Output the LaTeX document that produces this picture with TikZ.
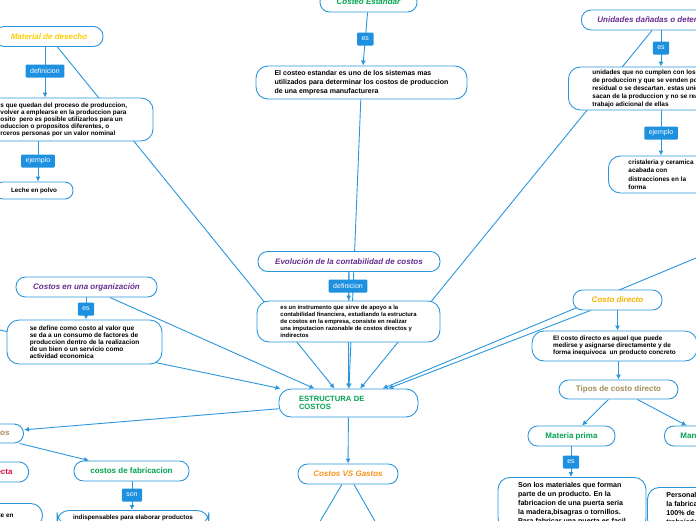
\documentclass[tikz,border=0pt]{standalone}
\usepackage{fontspec}
\setmainfont{Liberation Sans}
\usetikzlibrary{arrows.meta}
\pgfdeclarelayer{background}
\pgfsetlayers{background,main}
\definecolor{mapblue}{RGB}{43,150,220}
\definecolor{tagblue}{RGB}{30,144,224}
\definecolor{tgreen}{RGB}{0,163,80}
\definecolor{tyellow}{RGB}{250,208,0}
\definecolor{tpurple}{RGB}{102,45,145}
\definecolor{torange}{RGB}{247,148,30}
\definecolor{tgold}{RGB}{247,178,0}
\definecolor{ttan}{RGB}{163,141,92}
\definecolor{tred}{RGB}{212,20,70}

\begin{document}
\begin{tikzpicture}[x=1pt,y=-1pt,
  topic/.style={draw=mapblue,line width=0.9pt,fill=white,rounded corners=9.5pt,minimum height=20pt,inner xsep=6pt,inner ysep=0pt,font=\fontsize{8}{9.6}\selectfont\bfseries\itshape},
  topicup/.style={topic,font=\fontsize{8}{9.6}\selectfont\bfseries},
  note/.style={draw=mapblue,line width=0.9pt,fill=white,rounded corners=12pt,align=left,inner ysep=2pt,font=\fontsize{6.4}{7.2}\selectfont\bfseries},
  tag/.style={fill=tagblue,text=white,rounded corners=1pt,inner xsep=4.5pt,inner ysep=0pt,minimum height=13pt,font=\fontsize{7}{8}\selectfont},
  link/.style={draw=mapblue,line width=0.9pt},
  arr/.style={link,-{Latex[length=5pt,width=5pt]}}]
\useasboundingbox (0,0) rectangle (696,520);
%
% top
\node[topic,text=tgreen,minimum width=97pt] (costeo) at (368.5,2) {Costeo Estandar};
\node[tag] (esA) at (365.3,39) {es};
\node[note,minimum width=211pt,inner xsep=15pt,minimum height=33pt,font=\fontsize{7}{9}\selectfont\bfseries] (costeoDef) at (361.5,82.5) {El costeo estandar es uno de los sistemas mas\\utilizados para determinar los costos de produccion\\de una empresa manufacturera};
%
\node[topic,text=tyellow,minimum width=108pt] (desecho) at (49,36.5) {Material de desecho};
\node[tag] (defA) at (45,71) {definicion};
\node[note,anchor=west,inner xsep=26pt,minimum height=43pt,font=\fontsize{6.4}{7}\selectfont\bfseries] (desechoDef) at (-26,119.5) {s que quedan del proceso de produccion,\\volver a emplearse en la produccion para\\osito\ \ pero es posible utilizarlos para un\\oduccion o propositos diferentes, o\\rceros personas por un valor nominal};
\node[tag] (ejA) at (38,161) {ejemplo};
\node[note,rounded corners=8pt,minimum width=78pt,minimum height=17pt,align=center,font=\fontsize{6.3}{7}\selectfont\bfseries] (leche) at (34,190.5) {Leche en polvo};
%
\node[topic,text=tpurple,anchor=west,inner xsep=16pt] (unidades) at (581,20) {Unidades dañadas o deterioradas};
\node[tag] (esB) at (661,48) {es};
\node[note,anchor=west,inner xsep=24pt,minimum height=43pt,font=\fontsize{6.4}{8}\selectfont\bfseries] (unidadesDef) at (568,88.5) {unidades que no cumplen con los estandares\\de produccion y que se venden por su valor\\residual o se descartan. estas unidades se\\sacan de la produccion y no se realiza\\trabajo adicional de ellas};
\node[tag] (ejB) at (661,133) {ejemplo};
\node[note,anchor=west,inner xsep=20pt,minimum height=37pt,font=\fontsize{6.4}{8.5}\selectfont\bfseries] (cristaleria) at (608,174.5) {cristaleria y ceramica\\acabada con\\distracciones en la\\forma};
%
% middle
\node[topic,text=tpurple,minimum width=182pt] (evol) at (349,261.5) {Evolución de la contabilidad de costos};
\node[tag] (defB) at (348,286) {definicion};
\node[note,minimum width=183pt,minimum height=41pt,font=\fontsize{5.9}{7}\selectfont\bfseries] (evolDef) at (348.5,321.5) {es un instrumento que sirve de apoyo a la\\contabilidad financiera, estudiando la estructura\\de costos en la empresa, consiste en realizar\\una imputacion razonable de costos directos y\\indirectos};
%
\node[topic,text=tpurple,minimum width=141pt] (org) at (86.5,287) {Costos en una organización};
\node[tag] (esC) at (86,309) {es};
\node[note,minimum width=155pt,minimum height=44pt,font=\fontsize{6.5}{7}\selectfont\bfseries] (orgDef) at (84.5,342) {se define como costo al valor que\\se da a un consumo de factores de\\produccion dentro de la realizacion\\de un bien o un servicio como\\actividad economica};
%
\node[note,text=tgreen,text width=99pt,inner xsep=20pt,minimum height=28pt,font=\fontsize{7.6}{8}\selectfont\bfseries] (estructura) at (348.5,403) {ESTRUCTURA DE\\COSTOS};
\node[topic,text=torange,minimum width=100pt] (vs) at (348,474) {Costos VS Gastos};
\coordinate (vsL) at (315,530);
\coordinate (vsR) at (380,530);
\coordinate (leftA) at (-10,328);
\coordinate (rightA) at (720,248);
%
% right
\node[topic,text=tgold,minimum width=89pt] (cdir) at (617.5,300) {Costo directo};
\node[note,minimum width=165pt,minimum height=30pt,font=\fontsize{6.4}{7}\selectfont\bfseries] (cdirDef) at (614.5,346) {El costo directo es aquel que puede\\medirse y asignarse directamente y de\\forma inequivoca\ \ un producto concreto};
\node[topicup,text=ttan,minimum width=119pt,minimum height=19pt] (tipos) at (618.5,389.5) {Tipos de costo directo};
\node[topicup,text=tgreen,minimum width=87pt] (mp) at (571.5,436) {Materia prima};
\node[tag] (esD) at (571,462) {es};
\node[note,anchor=north,minimum width=148pt,inner ysep=5pt,font=\fontsize{7.1}{9}\selectfont\bfseries] (mpDef) at (572,477) {Son los materiales que forman\\parte de un producto. En la\\fabricacion de una puerta seria\\la madera,bisagras o tornillos.\\Para fabricar una puerta es facil};
\node[topicup,text=tgreen,anchor=west,align=left,inner xsep=16pt] (man) at (664,436) {Mano de obra};
\node[note,anchor=north west,inner xsep=19pt,inner ysep=5pt,font=\fontsize{7.1}{9}\selectfont\bfseries] (personal) at (647,487) {Personal que interviene en\\la fabricacion del producto,\\100\% de su costo se asigna\\trabajadores directos};
%
% left bottom
\node[topicup,text=ttan,anchor=east,inner xsep=14pt,minimum height=19pt] (tiposC) at (24,433.5) {Tipos de costos};
\node[topicup,text=tred,anchor=east,inner xsep=16pt] (directa) at (29,472) {Mano de obra directa};
\node[note,anchor=north east,align=right,inner xsep=29pt,inner ysep=9pt] (directaDef) at (43,503) {lo que se invierte en};
\node[topicup,text=tgreen,minimum width=115pt] (fab) at (131.5,471) {costos de fabricacion};
\node[tag] (son) at (132,495) {son};
\node[note,anchor=north,minimum width=152pt,inner ysep=4pt,font=\fontsize{6.3}{8}\selectfont\bfseries] (fabDef) at (133,510) {indispensables para elaborar productos};
%
\begin{pgfonlayer}{background}
\draw[arr] (costeo) -- (costeoDef);
\draw[arr] (desecho.south -| defA) -- (desechoDef.north -| defA);
\draw[arr] (desechoDef.south -| ejA) -- (leche.north -| ejA);
\draw[arr] (unidades.south -| esB) -- (unidadesDef.north -| esB);
\draw[arr] (unidadesDef.south -| ejB) -- (cristaleria.north -| ejB);
\draw[arr] (evol) -- (evolDef);
\draw[arr] (org.south -| esC) -- (orgDef.north -| esC);
\draw[arr] (cdir.south) -- (cdirDef.north -| cdir.south);
\draw[arr] (cdirDef.south -| tipos.north) -- (tipos.north);
\draw[arr] (tipos) -- (mp);
\draw[arr] (tipos) -- (man);
\draw[arr] (mp.south -| esD) -- (mpDef.north -| esD);
\draw[arr] (estructura) -- (vs);
\draw[link] (vs) -- (vsL);
\draw[link] (vs) -- (vsR);
\draw[arr] (estructura) -- (tiposC);
\draw[arr] (tiposC) -- (fab);
\draw[arr] (fab.south -| son) -- (fabDef.north -| son);
% into the centre
\draw[arr] (costeoDef) -- (estructura.88);
\draw[arr] (evol) -- (estructura.north);
\draw[arr] (desecho) -- (estructura.134);
\draw[arr] (org) -- (estructura.157);
\draw[arr] (leftA) -- (estructura.168);
\draw[arr] ([xshift=71pt]unidades.south west) -- (estructura.51);
\draw[arr] (cdir) -- (estructura.20);
\draw[arr] (rightA) -- (estructura.23);
\end{pgfonlayer}
\end{tikzpicture}
\end{document}
